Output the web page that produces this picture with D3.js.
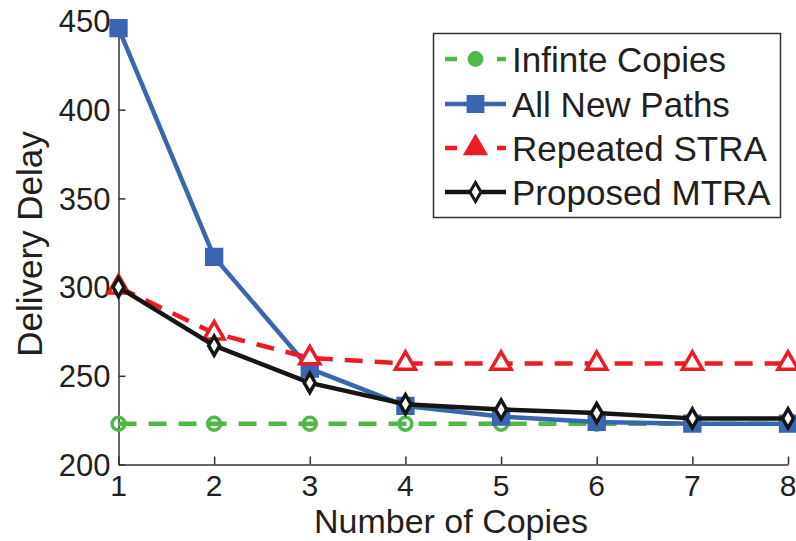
<!DOCTYPE html>
<html>
<head>
<meta charset="utf-8">
<script src="https://cdn.jsdelivr.net/npm/d3@7"></script>
<style>
  body { margin: 0; background: #fff; }
  text { font-family: "Liberation Sans", Arial, Helvetica, sans-serif; fill: #231f20; }
</style>
</head>
<body>
<div id="graf"></div>
<script>
// Values
const copies = [1, 2, 3, 4, 5, 6, 7, 8];
const infinite = [223, 223, 223, 223, 223, 223, 223, 223];
const allNew = [446, 317, 254, 233, 227, 224, 223, 223];
const repeated = [300, 274, 260, 257, 257, 257, 257, 257];
const proposed = [300, 267, 246, 234, 231, 229, 226, 226];
const yTicks = [200, 250, 300, 350, 400, 450];
const seriesNames = ["Infinte Copies", "All New Paths", "Repeated STRA", "Proposed MTRA"];

const svg = d3.select("#graf")
  .append("svg")
  .attr("width", 796)
  .attr("height", 541);

const xScale = d3.scaleLinear().domain([1, 8]).range([118.5, 788]);
const yScale = d3.scaleLinear().domain([200, 450]).range([464.5, 21]);

// Axes (left and bottom only, ticks inward)
svg.append("g")
  .attr("transform", `translate(0,${yScale(200)})`)
  .call(d3.axisTop(xScale).tickValues(copies).tickSize(8).tickSizeOuter(0).tickFormat(""));
svg.append("g")
  .attr("transform", `translate(${xScale(1)},0)`)
  .call(d3.axisRight(yScale).tickValues(yTicks).tickSize(7).tickSizeOuter(0).tickFormat(""));
svg.selectAll(".domain, .tick line")
  .attr("stroke", "#333")
  .attr("stroke-width", 1.5);

svg.append("g").selectAll("text")
  .data(copies)
  .enter()
  .append("text")
  .attr("x", d => xScale(d))
  .attr("y", 496)
  .attr("text-anchor", "middle")
  .style("font-size", "30px")
  .text(d => d);

svg.append("g").selectAll("text")
  .data(yTicks)
  .enter()
  .append("text")
  .attr("x", xScale(1) - 8)
  .attr("y", d => yScale(d))
  .attr("dy", "0.36em")
  .attr("text-anchor", "end")
  .style("font-size", "31px")
  .text(d => d);

svg.append("text")
  .attr("x", 451)
  .attr("y", 533)
  .attr("text-anchor", "middle")
  .style("font-size", "34px")
  .text("Number of Copies");

svg.append("text")
  .attr("transform", `translate(42,244) rotate(-90)`)
  .attr("text-anchor", "middle")
  .style("font-size", "35px")
  .text("Delivery Delay");

// Series definitions
const series = [
  { name: seriesNames[0], values: infinite, color: "#4fb848", dash: "18,12", symbol: d3.symbolCircle, size: 130, fill: "none" },
  { name: seriesNames[1], values: allNew, color: "#3a66b0", dash: null, symbol: d3.symbolSquare, size: 220, fill: "#3a66b0" },
  { name: seriesNames[2], values: repeated, color: "#ed1c24", dash: "18,12", symbol: d3.symbolTriangle, size: 175, fill: "#fff" },
  { name: seriesNames[3], values: proposed, color: "#151515", dash: null, symbol: d3.symbolDiamond, size: 105, fill: "#fff" }
];

const line = d3.line()
  .x((d, i) => xScale(copies[i]))
  .y(d => yScale(d));

series.forEach(s => {
  svg.append("path")
    .datum(s.values)
    .attr("d", line)
    .attr("fill", "none")
    .attr("stroke", s.color)
    .attr("stroke-width", 4.5)
    .attr("stroke-dasharray", s.dash)
    .attr("stroke-linejoin", "round");

  svg.append("g").selectAll("path")
    .data(s.values)
    .enter()
    .append("path")
    .attr("d", d3.symbol().type(s.symbol).size(s.size))
    .attr("transform", (d, i) => `translate(${xScale(copies[i])},${yScale(d)})`)
    .attr("fill", s.fill)
    .attr("stroke", s.color)
    .attr("stroke-width", 3.5);
});

// Legend
const legend = svg.append("g");
legend.append("rect")
  .attr("x", 433.5)
  .attr("y", 33.5)
  .attr("width", 347)
  .attr("height", 184)
  .attr("fill", "#fff")
  .attr("stroke", "#333")
  .attr("stroke-width", 1.5);

const rowY = [59, 104, 148, 192];
series.forEach((s, i) => {
  const g = legend.append("g").attr("transform", `translate(0,${rowY[i]})`);
  g.append("line")
    .attr("x1", 445).attr("x2", 506)
    .attr("stroke", s.color)
    .attr("stroke-width", 4.5)
    .attr("stroke-dasharray", s.dash ? "12,14" : null);
  g.append("path")
    .attr("d", d3.symbol().type(s.symbol).size(s.size))
    .attr("transform", "translate(475.5,0)")
    .attr("fill", i === 3 ? "#fff" : s.color)
    .attr("stroke", s.color)
    .attr("stroke-width", 3);
  g.append("text")
    .attr("x", 512)
    .attr("y", 0)
    .attr("dy", "0.36em")
    .style("font-size", "35px")
    .text(s.name);
});
</script>
</body>
</html>
